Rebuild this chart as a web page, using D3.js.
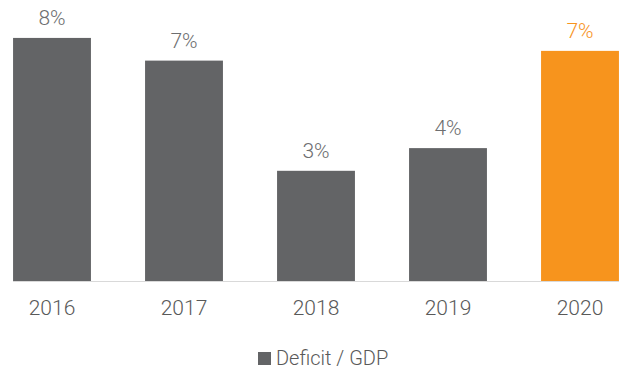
<!DOCTYPE html>
<html>
<head>
<meta charset="utf-8">
<script src="https://cdnjs.cloudflare.com/ajax/libs/d3/7.8.5/d3.min.js"></script>
<style>
  body { margin: 0; background: #fff; }
  text { font-family: Roboto, "Liberation Sans", sans-serif; font-weight: 300; }
</style>
</head>
<body>
<div id="chart"></div>
<script>
// chart data
var years = ['2016', '2017', '2018', '2019', '2020'];
var deficit = [7.5, 6.8, 3.4, 4.1, 7.1];
var labels = ['8%', '7%', '3%', '4%', '7%'];
var seriesName = 'Deficit / GDP';

var width = 619, height = 370, baseline = 281;
var grey = '#636466', orange = '#f7941d';

var svg = d3.select('#chart')
    .append('svg')
    .attr('width', width + 'px')
    .attr('height', height + 'px');

var xScale = d3.scaleBand()
    .domain(years)
    .range([-14, 646])
    .paddingInner(0.41)
    .paddingOuter(0.205);

var yScale = d3.scaleLinear()
    .domain([0, 8.67])
    .range([baseline, 0]);

function colour(i) { return i === years.length - 1 ? orange : grey; }

// bars
svg.selectAll('.bar')
    .data(deficit)
    .enter()
    .append('rect')
    .attr('class', 'bar')
    .attr('x', function(d, i){ return xScale(years[i]); })
    .attr('y', function(d){ return yScale(d); })
    .attr('width', xScale.bandwidth())
    .attr('height', function(d){ return baseline - yScale(d); })
    .attr('fill', function(d, i){ return colour(i); });

// value labels
svg.selectAll('.val')
    .data(deficit)
    .enter()
    .append('text')
    .attr('class', 'val')
    .attr('x', function(d, i){ return xScale(years[i]) + xScale.bandwidth() / 2; })
    .attr('y', function(d){ return yScale(d) - 13; })
    .attr('text-anchor', 'middle')
    .attr('font-size', '21px')
    .attr('fill', function(d, i){ return i === years.length - 1 ? orange : '#6d6e70'; })
    .text(function(d, i){ return labels[i]; });

// x axis
var xAxisG = svg.append('g')
    .attr('transform', 'translate(0,' + baseline + ')')
    .call(d3.axisBottom(xScale).tickSize(0).tickPadding(19));
xAxisG.select('.domain').remove();
xAxisG.selectAll('text')
    .attr('font-size', '21px')
    .attr('fill', '#595959')
    .style('font-family', 'Roboto, sans-serif')
    .style('font-weight', 300);

svg.append('line')
    .attr('x1', 13)
    .attr('x2', width)
    .attr('y1', baseline + 0.5)
    .attr('y2', baseline + 0.5)
    .attr('stroke', '#d9d9d9')
    .attr('stroke-width', 1);

// legend
var legend = svg.append('g').attr('transform', 'translate(258, 352)');
legend.append('rect')
    .attr('width', 13)
    .attr('height', 13)
    .attr('fill', grey);
legend.append('text')
    .attr('x', 18)
    .attr('y', 12.5)
    .attr('font-size', '20px')
    .attr('fill', '#595959')
    .text(seriesName);
</script>
</body>
</html>
